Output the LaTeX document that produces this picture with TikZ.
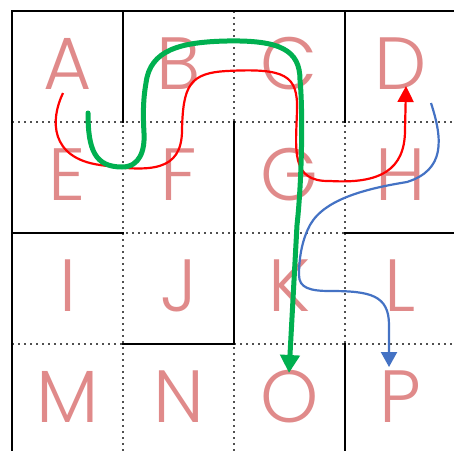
\documentclass[tikz,border=0pt]{standalone}
\usepackage{fontspec}
\IfFontExistsTF{Poppins Light}{\newfontfamily\lettfont{Poppins Light}}{\newfontfamily\lettfont{Poppins}}
\usetikzlibrary{arrows.meta}
\definecolor{lettc}{RGB}{224,138,138}
\definecolor{pgreen}{RGB}{0,176,80}
\definecolor{pblue}{RGB}{68,114,196}
\definecolor{dotc}{RGB}{80,80,80}
\begin{document}
\begin{tikzpicture}[x=1pt,y=-1pt,
  lett/.style={anchor=base,inner sep=0pt,text=lettc,font=\lettfont\fontsize{74}{80}\selectfont},
  dotline/.style={dotc,line width=1.8pt,dash pattern=on 1.8pt off 4.2pt},
  wall/.style={black,line width=2.8pt,line cap=rect},
  redp/.style={red,line width=2.2pt,-{Triangle[width=16pt,length=16pt]}},
  greenp/.style={pgreen,line width=5pt,line cap=round,-{Triangle[width=19pt,length=18pt]}},
  bluep/.style={pblue,line width=2.2pt,-{Triangle[width=16pt,length=15pt]}}]
\useasboundingbox (0,0) rectangle (454,450);
\fill[white] (0,0) rectangle (454,450);
% dotted grid
\foreach \i in {123,234,345} {
  \draw[dotline] (\i,11) -- (\i,460);
  \draw[dotline] (12,\i-1) -- (460,\i-1);
}
% walls
\draw[wall] (12,460) -- (12,11) -- (460,11);
\draw[wall] (123,11) -- (123,122);
\draw[wall] (345,11) -- (345,122);
\draw[wall] (234,122) -- (234,344) -- (123,344);
\draw[wall] (12,233) -- (123,233);
\draw[wall] (345,233) -- (460,233);
\draw[wall] (345,344) -- (345,460);
% letters
\node[lett] (A) at (67.5,89) {A};
\node[lett] (B) at (178.5,89) {B};
\node[lett] (C) at (289.5,89) {C};
\node[lett] (D) at (400.5,89) {D};
\node[lett] (E) at (67.5,200) {E};
\node[lett] (F) at (178.5,200) {F};
\node[lett] (G) at (289.5,200) {G};
\node[lett] (H) at (400.5,200) {H};
\node[lett] (I) at (67.5,311) {I};
\node[lett] (J) at (178.5,311) {J};
\node[lett] (K) at (289.5,311) {K};
\node[lett] (L) at (400.5,311) {L};
\node[lett] (M) at (67.5,422) {M};
\node[lett] (N) at (178.5,422) {N};
\node[lett] (O) at (289.5,422) {O};
\node[lett] (P) at (400.5,422) {P};
% path coordinates
\coordinate (rs) at (63,93);
\coordinate (re) at (406,86);
\coordinate (gs) at (88,113);
\coordinate (ge) at (289,373);
\coordinate (bs) at (431,103);
\coordinate (be) at (389,367);
% red
\draw[redp] (rs) .. controls (50,120) and (50,158) .. (100,165)
  .. controls (150,172) and (182,172) .. (182,130)
  .. controls (183,85) and (190,73) .. (227,71)
  .. controls (285,68) and (298,75) .. (297,110)
  .. controls (296,150) and (290,182) .. (330,181)
  .. controls (380,184) and (405,170) .. (405,130)
  -- (re);
% green
\draw[greenp] (gs) .. controls (88,150) and (95,167) .. (122,167)
  .. controls (140,167) and (145,150) .. (144,133)
  .. controls (143,115) and (143,100) .. (146,83)
  .. controls (150,50) and (180,42) .. (227,41)
  .. controls (280,40) and (300,50) .. (300,80)
  .. controls (303,110) and (302,180) .. (297,225)
  -- (ge);
% blue
\draw[bluep] (bs) .. controls (443,140) and (445,170) .. (407,182)
  .. controls (370,188) and (325,198) .. (310,225)
  .. controls (303,238) and (299,255) .. (299,275)
  .. controls (299,288) and (310,291) .. (330,291)
  .. controls (370,291) and (389,295) .. (389,325)
  -- (be);
\end{tikzpicture}
\end{document}
